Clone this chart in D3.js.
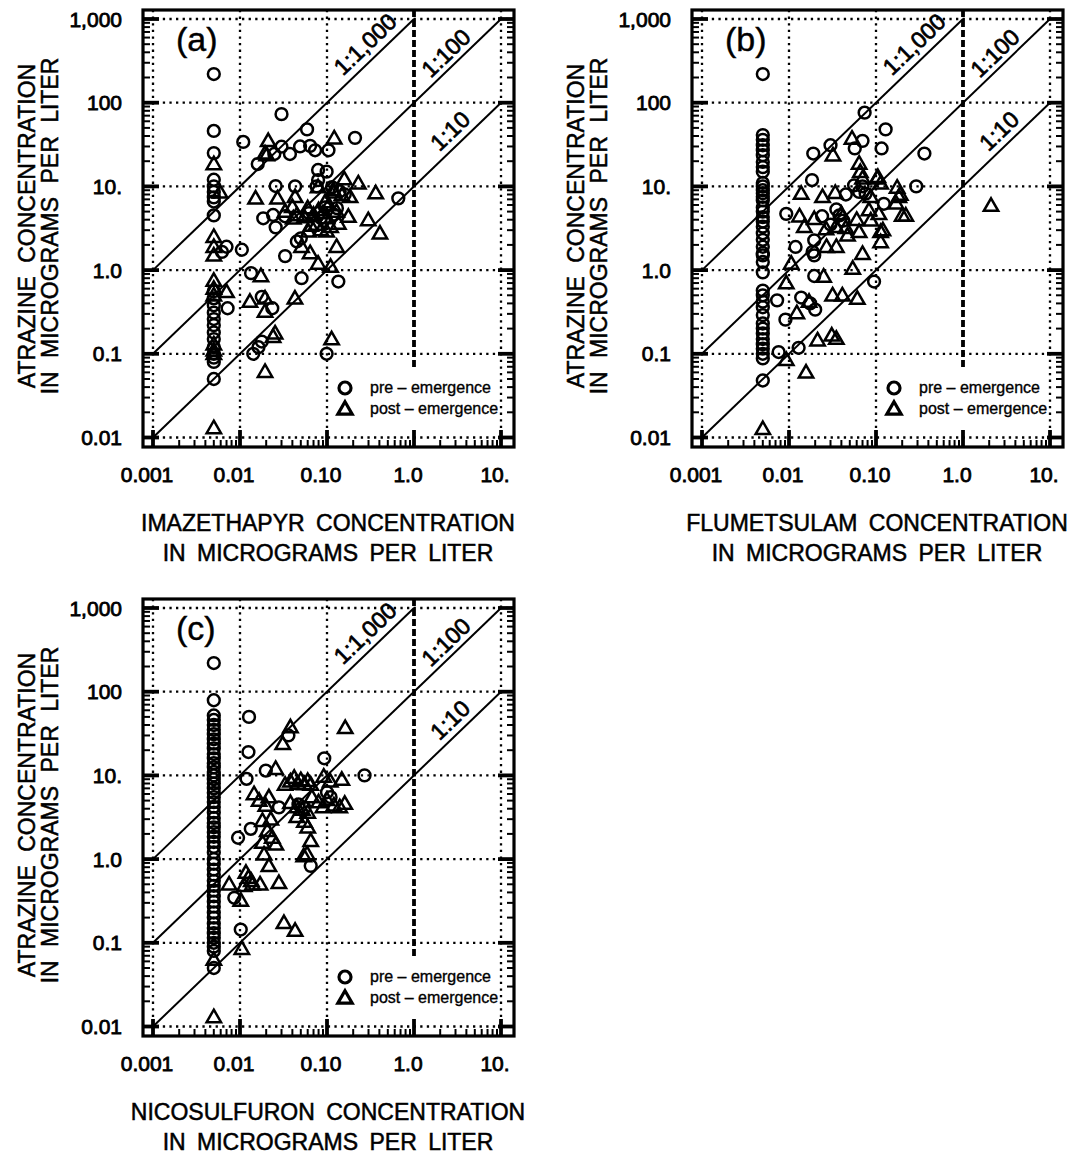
<!DOCTYPE html>
<html>
<head>
<meta charset="utf-8">
<script src="https://cdn.jsdelivr.net/npm/d3@7"></script>
<style>
  body { margin: 0; background: #fff; }
  text { font-family: "Liberation Sans", Arial, Helvetica, sans-serif; fill: #000; }
</style>
</head>
<body>
<div id="chart"></div>
<script>
let width = 1077,
    height = 1155;

// axis ticks
const xTicks = [0.001, 0.01, 0.1, 1, 10];
const xTickLabels = ["0.001", "0.01", "0.10", "1.0", "10."];
const yTicks = [0.01, 0.1, 1, 10, 100, 1000];
const yTickLabels = ["0.01", "0.1", "1.0", "10.", "100", "1,000"];

// ratio lines (atrazine = ratio * herbicide) and where their labels sit
const ratios = [1000, 100, 10];
const ratioLabels = ["1:1,000", "1:100", "1:10"];
const ratioLabelAt = [[0.274, 500], [2.33, 393], [2.59, 46]];

const legendLabels = ["pre \u2013 emergence", "post \u2013 emergence"];
const panelLabels = ["(a)", "(b)", "(c)"];
const herbicides = ["IMAZETHAPYR", "FLUMETSULAM", "NICOSULFURON"];

// (a) imazethapyr vs atrazine, ug/L  [herbicide, atrazine]
const preA = [
  [0.005,220],[0.005,46],[0.005,25],[0.005,12],[0.005,10],[0.005,8.6],[0.005,7.4],[0.005,6.6],[0.005,4.5],
  [0.005,0.56],[0.005,0.46],[0.005,0.38],[0.005,0.31],[0.005,0.26],[0.005,0.22],[0.005,0.18],[0.005,0.15],
  [0.005,0.12],[0.005,0.1],[0.005,0.09],[0.005,0.08],[0.005,0.05],
  [0.0062,1.65],[0.007,1.9],[0.0105,1.75],[0.0072,0.35],[0.0109,34],[0.016,18.5],[0.030,73],[0.0248,24.4],
  [0.030,29.8],[0.0375,24.4],[0.049,30],[0.064,30.5],[0.073,27],[0.104,27],[0.059,48],[0.21,38],[0.079,15.7],
  [0.099,15],[0.0257,10.1],[0.043,10],[0.076,10],[0.079,11.9],[0.114,9.8],[0.14,8.7],[0.66,7.2],[0.0185,4.16],
  [0.024,4.55],[0.0257,3.24],[0.0329,4.4],[0.062,4.8],[0.085,4.2],[0.095,5.6],[0.12,4.6],[0.13,5.5],[0.16,8],
  [0.045,2.2],[0.05,2.4],[0.033,1.47],[0.0134,0.92],[0.051,0.8],[0.135,0.73],[0.0178,0.48],[0.0235,0.35],
  [0.0142,0.1],[0.0163,0.12],[0.0178,0.14],[0.099,0.1]
];
const postA = [
  [0.005,18.5],[0.005,2.5],[0.005,1.9],[0.005,1.5],[0.005,0.75],[0.005,0.6],[0.005,0.5],[0.005,0.13],
  [0.005,0.11],[0.005,0.1],[0.005,0.013],
  [0.0059,8.5],[0.007,0.55],[0.0211,35],[0.0203,23.7],[0.0194,24.8],[0.121,37.6],[0.0151,7.2],[0.027,7.2],
  [0.043,7.5],[0.158,12.2],[0.229,10.9],[0.363,8.3],[0.118,9.1],[0.148,7.9],[0.184,7.5],[0.079,9.8],[0.033,5.0],
  [0.04,5.7],[0.041,4.16],[0.045,4.55],[0.129,5.0],[0.176,4.35],[0.135,3.6],[0.298,3.97],[0.406,2.75],[0.099,2.9],
  [0.061,2.9],[0.065,3.4],[0.051,1.9],[0.064,1.6],[0.079,1.2],[0.129,1.9],[0.110,1.1],[0.0174,0.85],[0.013,0.42],
  [0.0194,0.46],[0.0194,0.32],[0.0428,0.46],[0.0253,0.176],[0.024,0.16],[0.0194,0.061],[0.113,0.15],[0.055,4.3],
  [0.07,4.6],[0.075,3.5],[0.08,5.2],[0.09,4.8],[0.1,4.2],[0.11,3.3],[0.06,5.5],[0.085,3.0],[0.095,6.5],[0.105,6.0],
  [0.12,8.5]
];

// (b) flumetsulam vs atrazine
const preB = [
  [0.005,220],[0.005,41],[0.005,36],[0.005,31],[0.005,27],[0.005,23.6],[0.005,19.6],[0.005,17],[0.005,15],
  [0.005,11],[0.005,10],[0.005,9],[0.005,8.3],[0.005,7.5],[0.005,6.8],[0.005,5.6],[0.005,5],[0.005,4.3],
  [0.005,3.8],[0.005,3.3],[0.005,2.75],[0.005,2.3],[0.005,1.9],[0.005,1.6],[0.005,1.5],[0.005,1.25],[0.005,0.94],
  [0.005,0.57],[0.005,0.5],[0.005,0.42],[0.005,0.36],[0.005,0.29],[0.005,0.23],[0.005,0.2],[0.005,0.175],
  [0.005,0.15],[0.005,0.13],[0.005,0.115],[0.005,0.1],[0.005,0.088],[0.005,0.048],
  [0.074,76],[0.129,48],[0.116,28.4],[0.030,31],[0.057,28.4],[0.07,35],[0.019,24.7],[0.0184,11.9],[0.056,10.3],
  [0.07,10],[0.064,8.6],[0.076,8.2],[0.045,8.0],[0.123,6.2],[0.0093,4.7],[0.024,4.4],[0.035,5.3],[0.038,4.5],
  [0.042,3.9],[0.03,3.5],[0.0195,2.27],[0.0187,1.65],[0.0195,1.5],[0.0119,1.89],[0.0195,0.85],[0.095,0.73],
  [0.0073,0.435],[0.0091,0.256],[0.0138,0.47],[0.0175,0.40],[0.020,0.337],[0.0129,0.118],[0.0076,0.105],
  [0.36,24.7],[0.29,10]
];
const postB = [
  [0.005,0.0127],[0.053,37.4],[0.032,23.6],[0.064,18.8],[0.066,14.9],[0.07,12.5],[0.1036,12.5],[0.113,10.9],
  [0.0138,8.2],[0.0243,7.5],[0.034,8.4],[0.087,7.5],[0.175,9.7],[0.183,7.5],[0.2,4.5],[0.0132,4.4],[0.015,3.3],
  [0.0195,4.1],[0.0266,3.1],[0.0346,3.3],[0.047,2.6],[0.064,2.86],[0.083,5.2],[0.087,3.94],[0.113,2.86],[0.113,2.17],
  [0.108,4.7],[0.035,1.9],[0.027,1.9],[0.07,1.57],[0.054,1.04],[0.0106,1.2],[0.0093,0.7],[0.025,0.84],[0.0317,0.5],
  [0.041,0.5],[0.061,0.456],[0.0123,0.307],[0.017,0.42],[0.0093,0.085],[0.0213,0.145],[0.031,0.166],[0.035,0.152],
  [0.0157,0.06],[2.1,5.9],[0.22,4.5],[0.19,8.0],[0.17,6.3],[0.105,13],[0.12,3.0],[0.04,4.7],[0.045,3.2],[0.06,4.0]
];

// (c) nicosulfuron vs atrazine
const preC = [
  [0.005,220],[0.005,79],[0.005,52],[0.005,46],[0.005,40],[0.005,35],[0.005,31],[0.005,27],[0.005,24],[0.005,21],
  [0.005,18],[0.005,16],[0.005,14],[0.005,12.5],[0.005,11],[0.005,10],[0.005,9],[0.005,8],[0.005,7],[0.005,6.2],
  [0.005,5.5],[0.005,4.8],[0.005,4.2],[0.005,3.6],[0.005,3.1],[0.005,2.7],[0.005,2.4],[0.005,2.1],[0.005,1.85],
  [0.005,1.6],[0.005,1.4],[0.005,1.2],[0.005,1.0],[0.005,0.88],[0.005,0.75],[0.005,0.65],[0.005,0.55],[0.005,0.48],
  [0.005,0.42],[0.005,0.36],[0.005,0.31],[0.005,0.27],[0.005,0.23],[0.005,0.2],[0.005,0.17],[0.005,0.15],
  [0.005,0.13],[0.005,0.115],[0.005,0.1],[0.005,0.09],[0.005,0.08],[0.005,0.05],
  [0.0127,50],[0.036,30],[0.0125,19],[0.093,16],[0.0198,11.4],[0.0119,9.1],[0.27,10],[0.028,4.15],[0.1,6.3],
  [0.047,4.5],[0.055,4.1],[0.11,5.5],[0.0133,2.3],[0.0095,1.8],[0.065,0.83],[0.0086,0.345],[0.0102,0.144]
];
const postC = [
  [0.005,0.013],[0.005,0.063],[0.162,37],[0.038,37.8],[0.031,23.8],[0.0257,12],[0.033,7.8],[0.038,8.5],[0.042,9.4],
  [0.046,8],[0.05,8.8],[0.055,7.9],[0.06,8.6],[0.065,7.8],[0.0917,9.7],[0.109,8.5],[0.148,8.9],[0.0145,6.0],
  [0.0166,5.0],[0.0215,5.5],[0.0198,4.35],[0.038,4.7],[0.045,4.2],[0.052,3.9],[0.06,3.6],[0.045,3.2],[0.055,2.8],
  [0.06,2.4],[0.067,5.5],[0.08,4.8],[0.09,4.2],[0.1,5.1],[0.12,4.4],[0.14,4.2],[0.16,4.6],[0.065,1.65],[0.059,1.15],
  [0.0181,2.87],[0.0226,2.98],[0.0206,2.18],[0.0235,1.81],[0.0181,1.58],[0.0258,1.5],[0.0189,1.14],[0.0215,0.83],
  [0.028,0.52],[0.054,1.09],[0.0075,0.5],[0.0117,0.69],[0.0139,0.5],[0.0102,0.32],[0.0112,0.48],[0.0105,0.085],
  [0.032,0.173],[0.043,0.14],[0.0135,0.55],[0.017,0.5],[0.0125,0.6]
];

const panels = [
  { pre: preA, post: postA, dx: 0, dy: 0 },
  { pre: preB, post: postB, dx: 549, dy: 0 },
  { pre: preC, post: postC, dx: 0, dy: 589 }
];

const svg = d3.select("#chart")
  .append("svg")
  .attr("width", width)
  .attr("height", height)
  .attr("viewBox", [0, 0, width, height]);

svg.append("rect").attr("width", width).attr("height", height).attr("fill", "#fff");

// frame of one panel (panel-local pixels)
const frame = { left: 143, right: 514, top: 10, bottom: 447 };

let x = d3.scaleLog().domain([0.001, 10]).range([153, 501]);
let y = d3.scaleLog().domain([0.01, 1000]).range([437.5, 19]);

const tri = "M0,-7.3L7.2,5.2L-7.2,5.2Z";

// minor log ticks 2..9 inside each decade
function minorTicks(scale) {
  const [a, b] = scale.domain();
  return scale.ticks().filter(v => v >= a && v <= b && !xTicks.concat(yTicks).includes(v));
}

panels.forEach((p, i) => {
  const g = svg.append("g").attr("transform", `translate(${p.dx},${p.dy})`);

  // dotted grid at every decade
  g.append("g")
    .selectAll("line")
    .data(xTicks.filter(v => v !== 1))
    .join("line")
    .attr("x1", d => x(d)).attr("x2", d => x(d))
    .attr("y1", frame.top).attr("y2", frame.bottom)
    .attr("stroke", "#000").attr("stroke-width", 2.3)
    .attr("stroke-dasharray", "2.3 4.3");

  g.append("g")
    .selectAll("line")
    .data(yTicks)
    .join("line")
    .attr("y1", d => y(d)).attr("y2", d => y(d))
    .attr("x1", frame.left).attr("x2", frame.right)
    .attr("stroke", "#000").attr("stroke-width", 2.3)
    .attr("stroke-dasharray", "2.3 4.3");

  // heavy dashed line at 1.0
  g.append("line")
    .attr("x1", x(1)).attr("x2", x(1))
    .attr("y1", frame.top).attr("y2", y(0.065))
    .attr("stroke", "#000").attr("stroke-width", 3.8)
    .attr("stroke-dasharray", "7 3");

  // frame ticks: left, right (inward) and bottom (upward)
  const ticks = g.append("g").attr("stroke", "#000");
  const yMinor = minorTicks(y);
  const xMinor = minorTicks(x);
  [frame.left, frame.right].forEach((fx, k) => {
    const dir = k === 0 ? 1 : -1;
    ticks.append("g").selectAll("line").data(yMinor).join("line")
      .attr("x1", fx).attr("x2", fx + dir * 7)
      .attr("y1", d => y(d)).attr("y2", d => y(d))
      .attr("stroke-width", 2);
    ticks.append("g").selectAll("line").data(yTicks).join("line")
      .attr("x1", fx).attr("x2", fx + dir * 16)
      .attr("y1", d => y(d)).attr("y2", d => y(d))
      .attr("stroke-width", 3.8);
  });
  ticks.append("g").selectAll("line").data(xMinor).join("line")
    .attr("y1", frame.bottom).attr("y2", frame.bottom - 7)
    .attr("x1", d => x(d)).attr("x2", d => x(d))
    .attr("stroke-width", 2);
  ticks.append("g").selectAll("line").data(xTicks).join("line")
    .attr("y1", frame.bottom).attr("y2", frame.bottom - 17)
    .attr("x1", d => x(d)).attr("x2", d => x(d))
    .attr("stroke-width", 3.8);

  // frame
  g.append("rect")
    .attr("x", frame.left).attr("y", frame.top)
    .attr("width", frame.right - frame.left).attr("height", frame.bottom - frame.top)
    .attr("fill", "none").attr("stroke", "#000").attr("stroke-width", 3.2);

  // ratio lines
  g.append("g")
    .selectAll("line")
    .data(ratios)
    .join("line")
    .attr("x1", x(0.001)).attr("y1", r => y(0.001 * r))
    .attr("x2", r => x(Math.min(10, 1000 / r))).attr("y2", r => y(Math.min(10, 1000 / r) * r))
    .attr("stroke", "#000").attr("stroke-width", 2);

  const angle = Math.atan2(y(1) - y(10), x(10) - x(1)) * 180 / Math.PI;
  g.append("g")
    .selectAll("text")
    .data(ratioLabels)
    .join("text")
    .attr("transform", (d, j) => `translate(${x(ratioLabelAt[j][0])},${y(ratioLabelAt[j][1])}) rotate(${-angle})`)
    .attr("text-anchor", "middle")
    .attr("dy", "0.35em")
    .attr("font-size", 23)
    .attr("stroke", "#000").attr("stroke-width", 0.7)
    .text(d => d);

  // points
  g.append("g")
    .selectAll("circle")
    .data(p.pre)
    .join("circle")
    .attr("cx", d => x(d[0]))
    .attr("cy", d => y(d[1]))
    .attr("r", 5.9)
    .attr("fill", "none").attr("stroke", "#000").attr("stroke-width", 2.5);

  g.append("g")
    .selectAll("path")
    .data(p.post)
    .join("path")
    .attr("transform", d => `translate(${x(d[0])},${y(d[1])})`)
    .attr("d", tri)
    .attr("fill", "none").attr("stroke", "#000").attr("stroke-width", 2.5)
    .attr("stroke-linejoin", "miter");

  // legend
  const lg = g.append("g").attr("transform", "translate(345,388)");
  lg.append("circle").attr("r", 6).attr("fill", "none").attr("stroke", "#000").attr("stroke-width", 3.2);
  lg.append("path").attr("d", tri).attr("transform", "translate(0,21)")
    .attr("fill", "none").attr("stroke", "#000").attr("stroke-width", 3.2);
  lg.selectAll("text")
    .data(legendLabels)
    .join("text")
    .attr("x", 25)
    .attr("y", (d, j) => 5 + j * 21)
    .attr("font-size", 16)
    .attr("stroke", "#000").attr("stroke-width", 0.35)
    .text(d => d);

  // panel label
  g.append("text")
    .attr("x", 176).attr("y", 51)
    .attr("font-size", 34)
    .attr("stroke", "#000").attr("stroke-width", 0.4)
    .text(panelLabels[i]);

  // tick labels (printed a little left of their ticks, as in the original)
  g.append("g")
    .selectAll("text")
    .data(xTickLabels)
    .join("text")
    .attr("x", (d, j) => x(xTicks[j]) - 6)
    .attr("y", 482)
    .attr("text-anchor", "middle")
    .attr("font-size", 21)
    .attr("stroke", "#000").attr("stroke-width", 0.8)
    .text(d => d);

  g.append("g")
    .selectAll("text")
    .data(yTickLabels)
    .join("text")
    .attr("x", 122)
    .attr("y", (d, j) => y(yTicks[j]))
    .attr("dy", "0.36em")
    .attr("text-anchor", "end")
    .attr("font-size", 21)
    .attr("stroke", "#000").attr("stroke-width", 0.8)
    .text(d => d);

  // axis titles
  const yt = g.append("text")
    .attr("transform", "translate(0,226) rotate(-90)")
    .attr("text-anchor", "middle")
    .attr("font-size", 23)
    .attr("word-spacing", 7)
    .attr("stroke", "#000").attr("stroke-width", 0.5);
  yt.append("tspan").attr("x", 0).attr("y", 35).text("ATRAZINE CONCENTRATION");
  yt.append("tspan").attr("x", 0).attr("y", 58).text("IN MICROGRAMS PER LITER");

  const xt = g.append("text")
    .attr("text-anchor", "middle")
    .attr("font-size", 23)
    .attr("word-spacing", 5)
    .attr("stroke", "#000").attr("stroke-width", 0.5);
  xt.append("tspan").attr("x", 328).attr("y", 531).text(herbicides[i] + " CONCENTRATION");
  xt.append("tspan").attr("x", 328).attr("y", 561).text("IN MICROGRAMS PER LITER");
});
</script>
</body>
</html>
